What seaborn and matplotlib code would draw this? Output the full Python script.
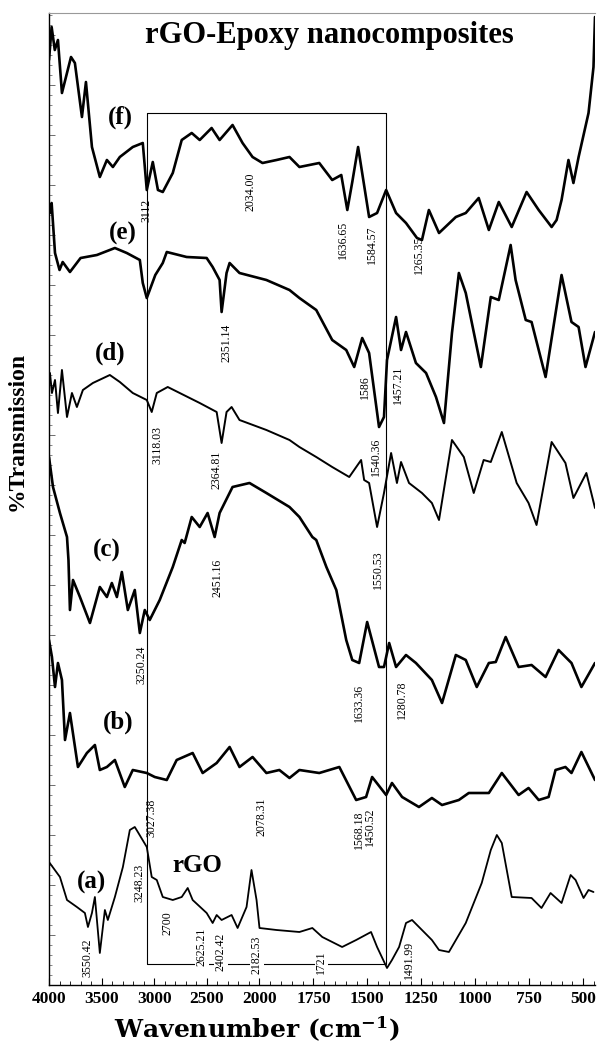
import numpy as np
import pandas as pd
import matplotlib
matplotlib.use('Agg')
import matplotlib.pyplot as plt
from matplotlib.ticker import MultipleLocator, FixedLocator, NullFormatter
import seaborn as sns

# FTIR spectra: wavenumber (cm-1) vs stacked transmission (arb. units)
wn_f = [4000, 3975, 3945, 3915, 3877, 3791, 3754, 3687, 3649, 3592, 3517, 3450, 3393, 3327, 3204, 3109,
        3071, 3014, 2965, 2919, 2824, 2739, 2644, 2568, 2455, 2379, 2256, 2161, 2066, 1986, 1921, 1861,
        1815, 1723, 1663, 1621, 1593, 1570, 1543, 1492, 1455, 1413, 1367, 1321, 1270, 1247, 1215, 1168,
        1090, 1044, 984, 937, 891, 831, 762, 706, 646, 623, 600, 568, 545, 521, 475, 452, 445]
tr_f = [925, 958, 935, 945, 892, 928, 922, 868, 903, 838, 808, 825, 818, 828, 838, 842,
        795, 823, 795, 793, 812, 845, 852, 845, 857, 845, 860, 842, 828, 822, 825, 828,
        818, 822, 805, 810, 775, 803, 838, 768, 772, 795, 772, 762, 747, 745, 775, 752,
        768, 772, 787, 755, 783, 758, 793, 775, 758, 765, 785, 825, 802, 828, 872, 918, 968]

wn_e = [3991, 3975, 3943, 3900, 3870, 3801, 3700, 3545, 3374, 3261, 3137, 3109, 3071, 2990, 2919, 2881,
        2692, 2502, 2445, 2379, 2360, 2313, 2284, 2190, 1968, 1861, 1815, 1737, 1663, 1598, 1561, 1524,
        1492, 1446, 1423, 1409, 1367, 1344, 1321, 1275, 1228, 1182, 1145, 1108, 1076, 1044, 974, 928,
        891, 836, 813, 766, 739, 674, 600, 554, 521, 489, 445]
tr_e = [772, 782, 732, 715, 723, 713, 727, 730, 737, 732, 725, 702, 687, 710, 722, 733,
        728, 727, 718, 705, 673, 712, 722, 712, 705, 695, 687, 675, 645, 635, 618, 647,
        632, 558, 568, 625, 668, 635, 653, 622, 612, 588, 562, 652, 712, 692, 618, 688,
        685, 740, 705, 665, 663, 608, 710, 663, 658, 618, 653]

wn_d = [3991, 3972, 3943, 3915, 3877, 3829, 3782, 3735, 3678, 3583, 3422, 3327, 3204, 3071, 3024, 2976,
        2872, 2758, 2568, 2407, 2360, 2313, 2265, 2190, 1968, 1861, 1815, 1737, 1663, 1584, 1529, 1515,
        1492, 1455, 1423, 1390, 1363, 1344, 1307, 1247, 1201, 1168, 1108, 1053, 1007, 961, 928, 877,
        808, 753, 716, 646, 582, 545, 485, 445]
tr_d = [612, 592, 605, 572, 615, 568, 592, 578, 595, 602, 610, 603, 592, 585, 573, 592,
        598, 592, 582, 573, 542, 573, 578, 565, 555, 545, 538, 528, 518, 508, 525, 505,
        502, 458, 492, 532, 502, 523, 502, 492, 482, 465, 545, 528, 492, 525, 523, 553,
        502, 482, 460, 543, 522, 487, 512, 477]

wn_c = [4000, 3962, 3896, 3829, 3815, 3801, 3772, 3706, 3611, 3517, 3450, 3403, 3355, 3308, 3251, 3185,
        3137, 3090, 3043, 2948, 2824, 2739, 2711, 2644, 2568, 2493, 2426, 2379, 2256, 2095, 1968, 1861,
        1815, 1755, 1737, 1690, 1644, 1598, 1570, 1538, 1501, 1446, 1423, 1399, 1367, 1321, 1275, 1201,
        1154, 1090, 1044, 993, 937, 905, 859, 799, 739, 674, 614, 554, 508, 445]
tr_c = [528, 498, 472, 448, 425, 375, 405, 388, 362, 398, 388, 402, 388, 413, 375, 395,
        352, 375, 365, 385, 418, 445, 442, 468, 458, 472, 448, 472, 498, 502, 492, 478,
        468, 448, 445, 418, 395, 345, 325, 322, 363, 318, 318, 342, 318, 330, 322, 305,
        282, 330, 325, 298, 322, 323, 348, 318, 320, 308, 335, 322, 298, 322]

wn_b = [4000, 3972, 3943, 3915, 3877, 3848, 3801, 3725, 3640, 3564, 3517, 3450, 3374, 3280, 3204, 3071,
        2995, 2881, 2787, 2635, 2540, 2407, 2284, 2190, 2066, 1968, 1908, 1861, 1815, 1723, 1630, 1552,
        1506, 1478, 1413, 1386, 1339, 1261, 1201, 1154, 1076, 1030, 937, 877, 799, 753, 706, 660,
        628, 582, 554, 508, 445]
tr_b = [345, 328, 298, 322, 305, 245, 272, 218, 232, 240, 215, 218, 225, 198, 215, 212,
        208, 205, 225, 232, 212, 222, 238, 218, 228, 212, 215, 207, 215, 212, 218, 185,
        188, 208, 190, 202, 188, 178, 187, 180, 185, 192, 192, 212, 190, 197, 185, 188,
        215, 218, 212, 233, 205]

wn_a = [4000, 3896, 3829, 3735, 3659, 3630, 3592, 3564, 3517, 3469, 3441, 3374, 3298, 3232, 3185, 3156,
        3071, 3024, 2976, 2919, 2824, 2739, 2682, 2635, 2502, 2445, 2407, 2360, 2265, 2208, 2123, 2076,
        2028, 2000, 1921, 1815, 1755, 1709, 1617, 1552, 1483, 1455, 1409, 1386, 1353, 1321, 1293, 1201,
        1168, 1122, 1044, 970, 928, 900, 877, 831, 739, 693, 651, 600, 558, 535, 498, 475, 452]
tr_a = [123, 108, 85, 78, 72, 58, 72, 88, 32, 75, 65, 88, 118, 155, 158, 153,
        138, 108, 105, 88, 85, 88, 97, 85, 72, 62, 70, 65, 70, 57, 78, 115,
        85, 57, 55, 53, 57, 48, 38, 45, 53, 38, 17, 25, 38, 62, 65, 45,
        35, 33, 62, 102, 135, 150, 142, 88, 87, 77, 92, 82, 110, 105, 87, 95, 93]

# sample labels (wavenumber, level)
sample_names = ['(f)', '(e)', '(d)', '(c)', '(b)', '(a)', 'rGO']
sample_wn = [3326, 3297, 3420, 3449, 3345, 3592, 2594]
sample_tr = [868, 752, 632, 435, 263, 103, 120]

# peak annotations (text, wavenumber, level)
peak_text = ['3112', '2034.00', '1636.65', '1584.57', '1265.35',
             '2351.14', '1586', '1457.21',
             '3118.03', '2364.81', '1540.36',
             '2451.16', '1550.53', '3250.24', '1633.36', '1280.78',
             '3027.38', '2078.31', '1568.18', '1450.52',
             '3248.23', '3550.42', '2700', '2625.21', '2402.42', '2182.53', '1721', '1491.99']
peak_wn = [3071, 2090, 1615, 1481, 1263,
           2309, 1513, 1356,
           2974, 2404, 1462,
           2395, 1453, 3117, 1537, 1342,
           3022, 1991, 1537, 1490,
           3136, 3639, 2870, 2547, 2366, 2024, 1713, 1305]
peak_tr = [775, 793, 745, 740, 730,
           642, 598, 600,
           540, 515, 528,
           407, 415, 320, 282, 285,
           167, 168, 155, 158,
           102, 27, 62, 38, 33, 30, 23, 25]
boxed = {'2625.21', '2402.42', '2182.53', '1721'}

box_left, box_right, box_top, box_bottom = 3071, 1412, 872, 21

major_ticks = [4000, 3500, 3000, 2500, 2000, 1750, 1500, 1250, 1000, 750, 500]


# the spectrometer axis doubles its scale below 2000 cm-1
def fwd(w):
    w = np.asarray(w, dtype=float)
    return np.where(w >= 2000, w, 2000 - (2000 - w) * 2.05)


def inv(p):
    p = np.asarray(p, dtype=float)
    return np.where(p >= 2000, p, 2000 - (2000 - p) / 2.05)


sns.set_style('ticks')
plt.rcParams['font.family'] = ['Liberation Serif', 'DejaVu Serif']
plt.rcParams['mathtext.fontset'] = 'dejavuserif'
plt.rcParams['text.color'] = 'black'
plt.rcParams['axes.labelcolor'] = 'black'
plt.rcParams['xtick.color'] = 'black'

fig = plt.figure(figsize=(5.97, 10.46), dpi=100)
ax = fig.add_axes([49 / 597, 61 / 1046, 546 / 597, 972 / 1046])

spectra = [(wn_f, tr_f, 1.9), (wn_e, tr_e, 1.9), (wn_d, tr_d, 1.4),
           (wn_c, tr_c, 1.9), (wn_b, tr_b, 1.9), (wn_a, tr_a, 1.3)]
for wn, tr, lw in spectra:
    df = pd.DataFrame({'wn': wn, 'tr': tr})
    sns.lineplot(data=df, x='wn', y='tr', ax=ax, color='black', lw=lw,
                 sort=False, estimator=None)

ax.set_xscale('function', functions=(fwd, inv))
ax.set_xlim(4000, 445)
ax.set_ylim(0, 972)

# reference box
ax.plot([box_left, box_left, box_right, box_right], [box_top, box_bottom, box_bottom, box_top],
        color='black', lw=0.8)
ax.plot([box_left, box_right], [box_top, box_top], color='black', lw=0.8)

for t, w, y in zip(sample_names, sample_wn, sample_tr):
    ax.text(w, y, t, fontsize=18, fontweight='bold', ha='center', va='center', color='black')

for t, w, y in zip(peak_text, peak_wn, peak_tr):
    kw = {}
    if t in boxed:
        kw['bbox'] = dict(facecolor='white', edgecolor='none', pad=0.5)
    ax.text(w, y, t, fontsize=8.5, rotation=90, ha='center', va='center', color='black', **kw)

ax.text(0.513, 0.977, 'rGO-Epoxy nanocomposites', transform=ax.transAxes,
        fontsize=22, fontweight='bold', ha='center', va='center', color='black')

ax.xaxis.set_major_locator(FixedLocator(major_ticks))
minor = list(range(3900, 2000, -100)) + list(range(1950, 440, -50))
ax.xaxis.set_minor_locator(FixedLocator(minor))
ax.set_xticklabels([str(t) for t in major_ticks], fontsize=12.5, fontweight='bold')
ax.tick_params(axis='x', which='major', direction='in', length=5, width=0.8, pad=4)
ax.tick_params(axis='x', which='minor', direction='in', length=3, width=0.6)

ax.yaxis.set_major_locator(MultipleLocator(50))
ax.yaxis.set_minor_locator(MultipleLocator(10))
ax.yaxis.set_major_formatter(NullFormatter())
ax.tick_params(axis='y', which='major', direction='in', length=4, width=0.6, colors='#555555')
ax.tick_params(axis='y', which='minor', direction='in', length=2.5, width=0.5, colors='#555555')

ax.set_xlabel(r'Wavenumber (cm$^{\mathbf{-1}}$)', fontsize=18, fontweight='bold',
              family='DejaVu Serif')
ax.xaxis.set_label_coords(0.38, -0.031)
ax.set_ylabel('%Transmission', fontsize=17, fontweight='bold')
ax.yaxis.set_label_coords(-0.04, 0.569)

ax.spines['right'].set_visible(False)
ax.spines['top'].set_color('#999999')
for s in ['left', 'bottom']:
    ax.spines[s].set_linewidth(1.0)
    ax.spines[s].set_color('black')

fig.savefig('out.png', dpi=100)
